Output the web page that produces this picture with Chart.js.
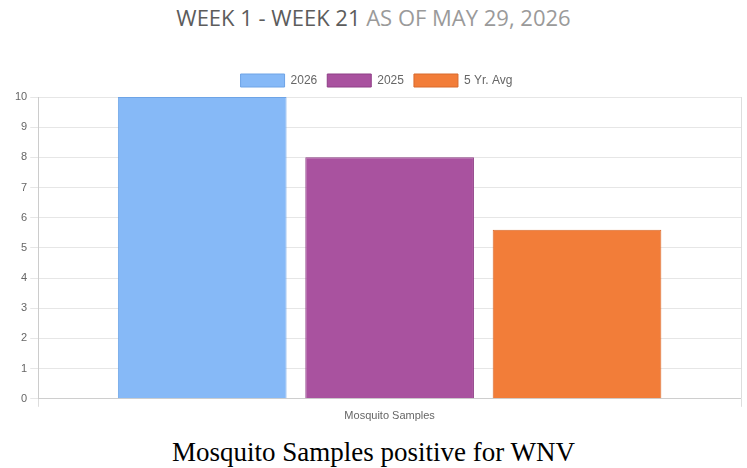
<!DOCTYPE html>
<html>
<head>
<meta charset="utf-8">
<script src="https://cdn.jsdelivr.net/npm/chart.js@4"></script>
<style>
    body { margin: 0; background: #fff; width: 747px; height: 468px; overflow: hidden; }
    #title { position: absolute; top: 2px; left: 0; width: 747px; text-align: center;
        font-family: "Open Sans", sans-serif; font-size: 22px; color: #9a9a9a; }
    #title span { font-weight: 500; color: #5c5c5c; }
    #wrap { position: absolute; left: 0; top: 64px; width: 747px; height: 362px; }
    #caption { position: absolute; top: 437px; left: 0; width: 747px; text-align: center;
        font-family: "Liberation Serif", serif; font-size: 27px; color: #000; }
</style>
</head>
<body>
<div id="title"><span>WEEK 1 - WEEK 21</span> AS OF MAY 29, 2026</div>
<div id="wrap"><canvas id="chart"></canvas></div>
<div id="caption">Mosquito Samples positive for WNV</div>
<script>
var categories = ['Mosquito Samples'];
var seriesNames = ['2026', '2025', '5 Yr. Avg'];
var values2026 = [10];
var values2025 = [8];
var valuesAvg = [5.6];
var colors = ['#86b9f7', '#a9529f', '#f27d39'];
var borders = ['#6ea4e6', '#8e3e86', '#d86a2c'];

$ = function (sel) { return document.querySelector(sel); };

var cfg = {
    type: 'bar',
    data: {
        labels: categories,
        datasets: [
            { label: seriesNames[0], data: values2026, backgroundColor: colors[0], borderColor: borders[0], borderWidth: 1 },
            { label: seriesNames[1], data: values2025, backgroundColor: colors[1], borderColor: borders[1], borderWidth: 1 },
            { label: seriesNames[2], data: valuesAvg, backgroundColor: colors[2], borderColor: borders[2], borderWidth: 1 }
        ]
    },
    options: {
        responsive: true,
        maintainAspectRatio: false,
        animation: false,
        layout: { padding: { left: 12, right: 6, top: 0, bottom: 0 } },
        plugins: {
            legend: {
                labels: {
                    boxWidth: 44,
                    boxHeight: 13,
                    color: '#666',
                    font: { family: 'Liberation Sans', size: 12 }
                }
            },
            tooltip: { enabled: false }
        },
        scales: {
            x: {
                grid: { color: '#ddd', offset: true },
                ticks: { color: '#666', font: { family: 'Liberation Sans', size: 11 } }
            },
            y: {
                min: 0,
                max: 10,
                ticks: { stepSize: 1, color: '#666', font: { family: 'Liberation Sans', size: 11 } },
                grid: { color: '#e6e6e6' },
                border: { color: '#ccc' }
            }
        }
    }
};
var chart = new Chart($('#chart'), cfg);
</script>
</body>
</html>
